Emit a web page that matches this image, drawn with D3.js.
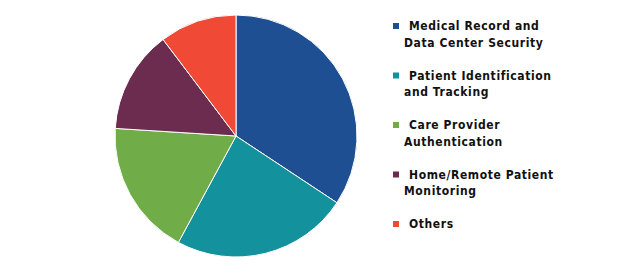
<!DOCTYPE html>
<html>
<head>
<meta charset="utf-8">
<script src="https://cdn.jsdelivr.net/npm/d3@7"></script>
<style>
  body { margin: 0; background: #fff; }
  text { font-family: "DejaVu Sans Condensed", "DejaVu Sans", sans-serif; font-weight: bold; font-size: 12px; letter-spacing: 0.6px; fill: #111; }
</style>
</head>
<body>
<div id="chart1"></div>
<script>
// data (share, %)
var categories = ["Medical Record and\nData Center Security", "Patient Identification\nand Tracking",
                  "Care Provider\nAuthentication", "Home/Remote Patient\nMonitoring", "Others"];
var shares = [34.3, 23.6, 18.1, 13.7, 10.3];
var colours = ["#1f4f93", "#13929d", "#70ac47", "#6b2c50", "#f04a37"];

var width = 620, height = 275;
var cx = 236, cy = 136, radius = 121;

var svg = d3.select("#chart1").append("svg")
    .attr("width", width)
    .attr("height", height);

var pie = d3.pie().sort(null).value(function(d) { return d; });
var arc = d3.arc().innerRadius(0).outerRadius(radius);

var plot = svg.append("g")
    .attr("transform", "translate(" + cx + "," + cy + ")");

plot.selectAll("path")
    .data(pie(shares))
    .join("path")
    .attr("d", arc)
    .attr("fill", function(d, i) { return colours[i]; })
    .attr("stroke", "#fff")
    .attr("stroke-width", 1);

////////// legend //////////
var legend = svg.append("g").attr("transform", "translate(393,23)");

var items = legend.selectAll("g")
    .data(categories)
    .join("g")
    .attr("transform", function(d, i) { return "translate(0," + (i * 49.5) + ")"; });

items.append("rect")
    .attr("width", 6)
    .attr("height", 6)
    .attr("fill", function(d, i) { return colours[i]; });

items.each(function(d) {
  var lines = d.split("\n");
  var g = d3.select(this);
  lines.forEach(function(line, j) {
    g.append("text")
      .attr("x", j == 0 ? 16 : 11)
      .attr("y", 7 + j * 16.5)
      .text(line);
  });
});
</script>
</body>
</html>
